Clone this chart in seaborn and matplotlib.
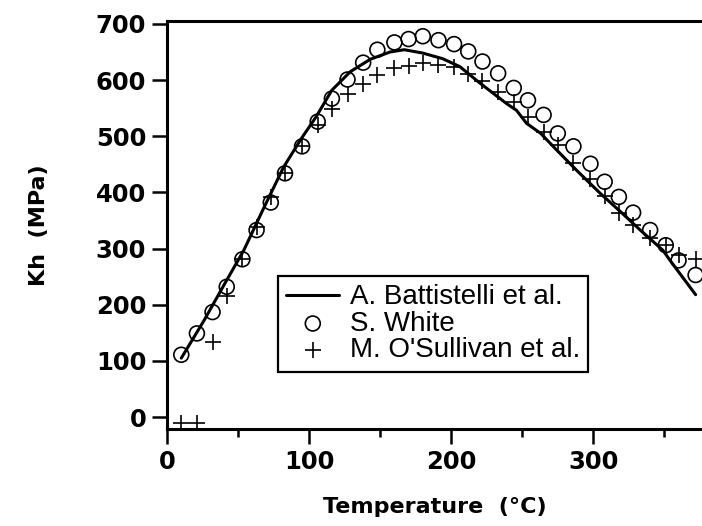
import matplotlib
matplotlib.use("Agg")
import matplotlib.pyplot as plt
import numpy as np
import pandas as pd
import seaborn as sns
from matplotlib.ticker import MultipleLocator

# temperatures shared by both measured series (deg C)
temp = [10, 21, 32, 42, 53, 63, 73, 83, 95, 106, 116, 127, 138, 148, 160, 170, 180, 191,
        202, 212, 222, 233, 244, 254, 265, 275, 286, 298, 308, 318, 328, 340, 351, 360, 372]

white = [111, 149, 187, 232, 281, 333, 382, 434, 482, 526, 567, 601, 631, 654, 667, 673, 678, 671,
         664, 651, 633, 612, 586, 564, 538, 505, 482, 451, 419, 392, 364, 333, 306, 279, 253]

osullivan = [-11, -11, 134, 215, 281, 339, 392, 434, 483, 520, 549, 575, 593, 609, 621, 625, 630, 627,
             623, 610, 598, 579, 561, 535, 508, 485, 452, 423, 393, 363, 342, 318, 306, 288, 281]

# Battistelli model curve
batt_t = [10, 26, 40, 54, 68, 82, 94, 105, 116, 129, 143, 157, 167, 180, 194, 206, 220, 239,
          246, 253, 263, 274, 288, 305, 319, 333, 349, 354, 372]
batt_kh = [105, 172, 235, 297, 372, 445, 494, 535, 582, 615, 637, 650, 654, 648, 638, 624, 595, 558,
           546, 523, 505, 476, 440, 398, 366, 333, 297, 279, 218]

batt_df = pd.DataFrame({'T': batt_t, 'Kh': batt_kh})
meas_df = pd.DataFrame({'T': temp, 'white': white, 'osullivan': osullivan})

sns.set_style("ticks", {'text.color': 'black', 'axes.labelcolor': 'black',
                        'xtick.color': 'black', 'ytick.color': 'black',
                        'axes.edgecolor': 'black'})
plt.rcParams['font.family'] = ['DejaVu Sans']

fig = plt.figure(figsize=(7.02, 5.26), dpi=100)
ax = fig.add_axes([0.238, 0.1835, 0.762, 0.7775])

sns.lineplot(data=batt_df, x='T', y='Kh', ax=ax, color='black', linewidth=2.2,
             label='A. Battistelli et al.', sort=False)
sns.scatterplot(data=meas_df, x='T', y='white', ax=ax, marker='o', s=115,
                facecolors='none', edgecolor='black', linewidth=1.2, label='S. White')
sns.scatterplot(data=meas_df, x='T', y='osullivan', ax=ax, marker='+', s=130,
                color='black', linewidth=1.2, label="M. O'Sullivan et al.")

ax.set_xlim(0, 376.5)
ax.set_ylim(-22, 706)
ax.set_xticks([0, 100, 200, 300])
ax.xaxis.set_minor_locator(MultipleLocator(50))
ax.set_yticks(range(0, 701, 100))

for s in ['left', 'top', 'bottom']:
    ax.spines[s].set_linewidth(2.2)
    ax.spines[s].set_color('black')
ax.spines['right'].set_visible(False)

ax.tick_params(axis='both', which='major', direction='out', length=11, width=1.8,
               color='black', labelcolor='black', pad=4)
ax.tick_params(axis='x', which='minor', direction='out', length=6, width=1.8, color='black')
for lab in ax.get_xticklabels() + ax.get_yticklabels():
    lab.set_fontsize(17.5)
    lab.set_fontweight('bold')

ax.set_xlabel('Temperature  (°C)', fontsize=16, fontweight='bold', labelpad=16, color='black')
ax.set_ylabel('Kh  (MPa)', fontsize=16, fontweight='bold', labelpad=34, color='black')

leg = ax.legend(loc='upper left', bbox_to_anchor=(0.2075, 0.3755), borderaxespad=0,
                frameon=True, fancybox=False, edgecolor='black', framealpha=1,
                prop={'family': 'Liberation Sans', 'size': 20}, handlelength=1.9,
                handletextpad=0.38, labelspacing=0.02, borderpad=0.3)
leg.get_frame().set_linewidth(1.6)
for t in leg.get_texts():
    t.set_color('black')

fig.savefig('out.png', dpi=100)
